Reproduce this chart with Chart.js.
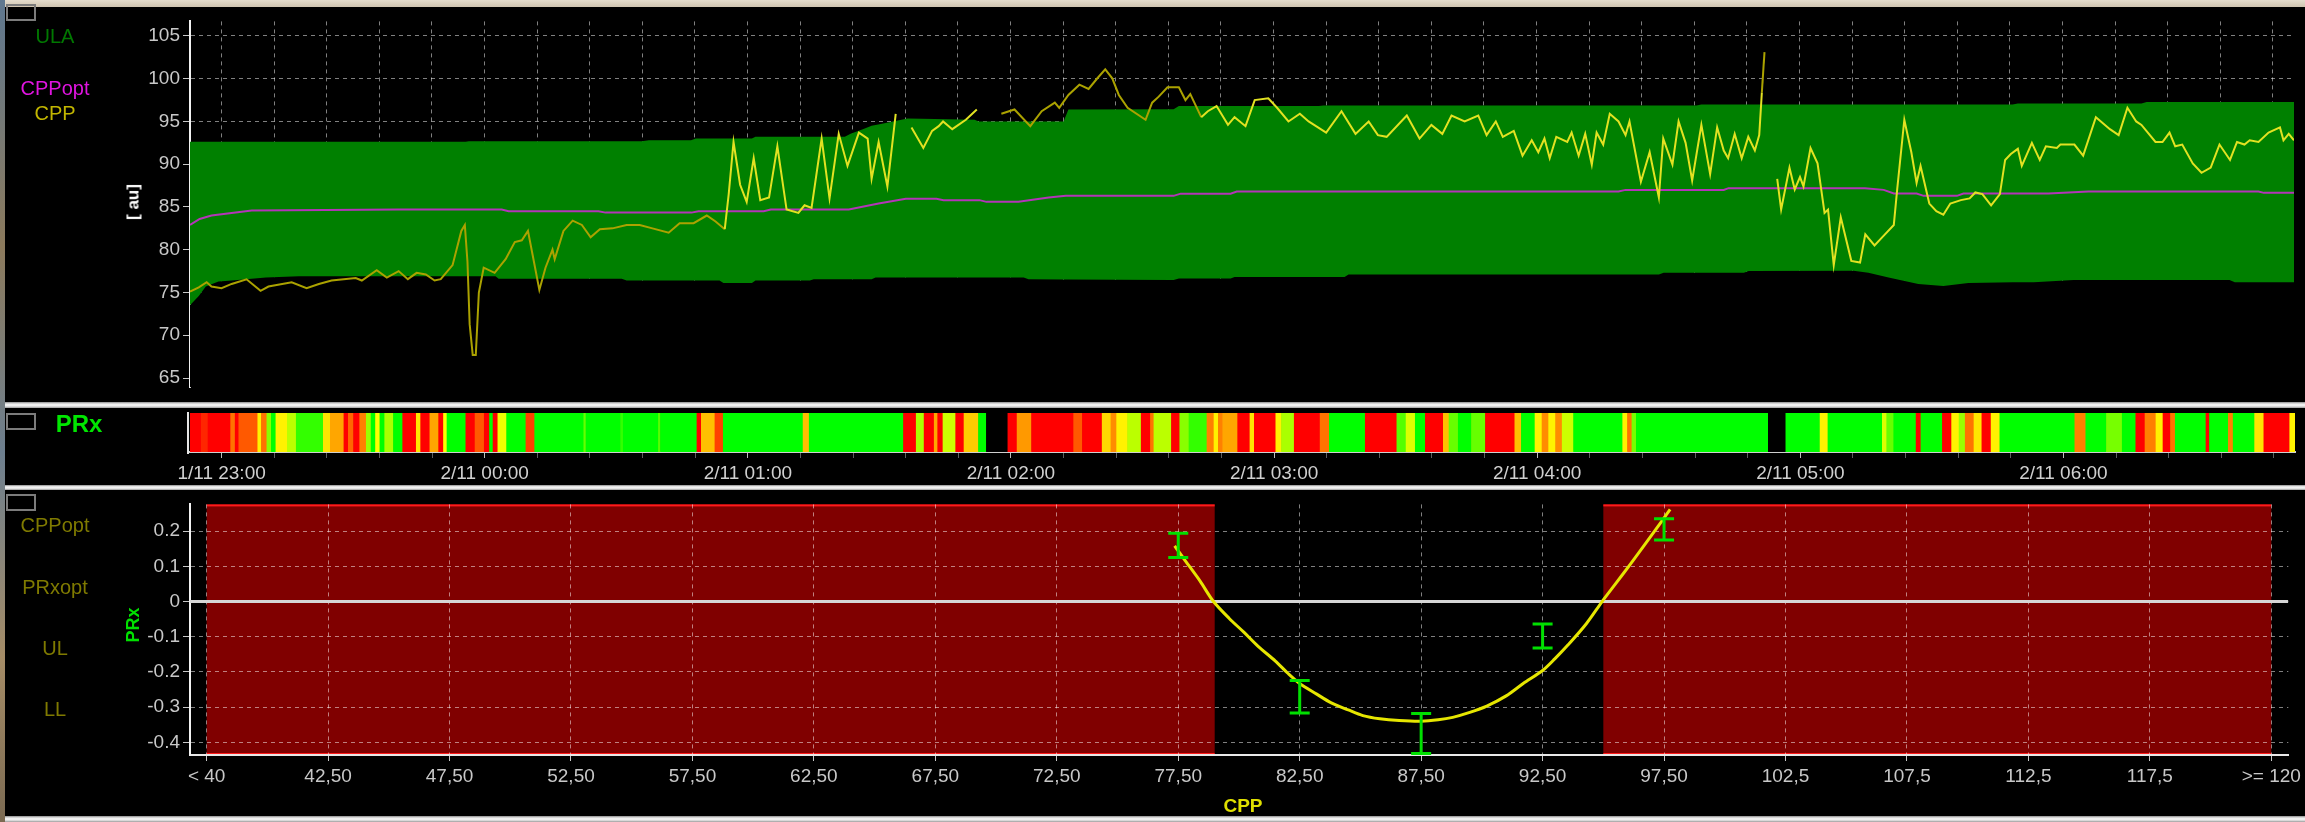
<!DOCTYPE html>
<html>
<head>
<meta charset="utf-8">
<script src="https://cdn.jsdelivr.net/npm/chart.js@4.4.1/dist/chart.umd.min.js"></script>
<style>
  html, body { margin: 0; padding: 0; background: #000; width: 2305px; height: 822px; overflow: hidden; }
  body { position: relative; font-family: "Liberation Sans", Arial, sans-serif; }
  canvas { position: absolute; left: 0; }
  .frame-top { position: absolute; left: 0; top: 0; width: 2305px; height: 7px; background: linear-gradient(#e4dccd, #cfc4b0); }
  .frame-left { position: absolute; left: 0; top: 0; width: 5px; height: 822px; background: linear-gradient(#5f7890, #8c7a5c 30%, #6d7f8f 55%, #a58c66 80%, #7b6a52); }
  .sep { position: absolute; left: 5px; width: 2300px; background: linear-gradient(#8c8c8c 0, #f0f0f0 35%, #f0f0f0 65%, #9a9a9a 100%); }
  .box { position: absolute; left: 6px; width: 26px; height: 13px; border: 2px solid #7c7c7c; }
  .lg { position: absolute; left: 55px; transform: translateX(-50%); font-size: 20px; line-height: 20px; white-space: nowrap; }
  .rot { position: absolute; transform: translate(-50%, -50%) rotate(-90deg); font-weight: bold; white-space: nowrap; line-height: 1; }
</style>
</head>
<body>
<div class="frame-top"></div>
<div class="frame-left"></div>

<canvas id="trend" width="2305" height="395" style="top:7px"></canvas>
<canvas id="prxStrip" width="2305" height="75" style="top:413px"></canvas>
<canvas id="curve" width="2305" height="326" style="top:490px"></canvas>

<div class="sep" style="top:402px;height:6px"></div>
<div class="sep" style="top:485px;height:5px"></div>
<div class="sep" style="top:816px;height:6px"></div>
<div style="position:absolute;left:187px;top:412px;width:2px;height:42px;background:#e6e6e6"></div>

<div class="box" style="top:4px"></div>
<div class="box" style="top:413px"></div>
<div class="box" style="top:494px"></div>

<div class="lg" style="top:26px;color:#007800">ULA</div>
<div class="lg" style="top:78px;color:#e014e0">CPPopt</div>
<div class="lg" style="top:103px;color:#c2b600">CPP</div>
<div class="rot" style="left:133px;top:202px;color:#ffffff;font-size:17px">[ au]</div>

<div class="lg" style="left:79px;top:412px;font-size:24px;line-height:24px;font-weight:bold;color:#00e600">PRx</div>

<div class="lg" style="top:515px;color:#7f7a00">CPPopt</div>
<div class="lg" style="top:577px;color:#7f7a00">PRxopt</div>
<div class="lg" style="top:638px;color:#7f7a00">UL</div>
<div class="lg" style="top:699px;color:#7f7a00">LL</div>
<div class="rot" style="left:133px;top:625px;color:#00e000;font-size:18px">PRx</div>
<div class="rot" style="left:1243px;top:805px;color:#e0e000;font-size:19px;transform:translate(-50%,-50%)">CPP</div>

<script>
// ---------- trend panel (minutes after 1/11 23:00) ----------
const cppSamples = [
  [-7.2,75.1],[-5.2,75.6],[-3.4,76.2],[-2.3,75.7],[0.0,75.5],[2.3,76.0],[5.7,76.55],[8.9,75.2],[10.7,75.7],[16.0,76.2],
  [19.4,75.5],[22.2,76.0],[25.1,76.4],[30.6,76.7],[32.0,76.4],[35.4,77.6],[37.7,76.75],[40.4,77.5],[42.5,76.56],[44.5,77.3],
  [46.6,77.1],[48.6,76.4],[50.0,76.56],[52.7,78.2],[54.7,82.2],[55.5,82.9],[56.1,78.6],[56.6,71.3],[57.3,67.7],[58.0,67.7],
  [58.7,75.0],[59.8,77.9],[62.3,77.3],[64.8,78.9],[66.9,80.9],[68.5,81.1],[69.9,82.2],[71.0,79.3],[72.5,75.3],[73.9,77.9],
  [75.5,80.0],[76.0,78.9],[78.0,82.2],[80.1,83.4],[82.2,82.9],[84.2,81.45],[86.3,82.4],[89.2,82.5],[92.4,82.9],[95.4,82.9],
  [98.3,82.5],[102.0,82.0],[104.5,83.1],[107.7,83.1],[110.7,84.0],[112.7,83.3],[114.8,82.4],[115.7,86.5],[116.8,92.6],[118.3,87.6],
  [119.8,85.6],[121.4,90.7],[122.9,85.8],[124.9,86.1],[126.8,92.1],[128.9,84.7],[131.6,84.3],[133.0,85.2],[134.6,84.9],[136.9,93.0],
  [138.7,86.0],[140.8,93.55],[142.8,89.8],[145.4,93.7],[147.4,93.0],[148.3,88.3],[149.9,92.6],[151.9,87.4],[153.8,95.9],[155.6,null],
  [157.4,94.3],[160.1,91.9],[162.1,93.9],[163.6,94.45],[164.6,95.0],[166.7,94.1],[169.8,95.2],[172.3,96.4],[175.0,null],[177.9,95.9],
  [180.9,96.4],[184.5,94.45],[187.1,96.2],[190.1,97.2],[191.1,96.6],[193.2,98.1],[195.7,99.3],[197.8,98.8],[199.8,100.05],[201.6,101.1],
  [203.2,100.05],[204.7,98.1],[206.7,96.6],[210.8,95.2],[212.3,97.2],[213.8,97.9],[215.8,99.0],[218.4,99.0],[219.9,97.5],[221.0,98.2],
  [223.5,95.5],[225.0,96.2],[227.0,96.8],[229.6,94.6],[231.1,95.5],[233.6,94.45],[235.7,97.5],[238.8,97.7],[240.8,96.6],[243.4,95.0],
  [246.0,95.9],[248.0,95.0],[252.0,93.7],[255.5,96.2],[258.7,93.55],[261.7,95.0],[263.8,93.4],[265.8,93.2],[270.4,95.7],[273.3,93.0],
  [276.0,94.6],[278.5,93.55],[280.6,95.7],[283.6,95.0],[286.7,95.7],[288.6,93.4],[290.7,95.0],[292.3,93.2],[294.8,93.9],[296.8,91.0],
  [298.9,92.8],[300.4,91.4],[301.8,93.0],[303.0,90.7],[304.5,93.2],[307.0,92.6],[308.0,93.7],[309.6,91.0],[311.1,93.55],[312.6,89.95],
  [313.7,93.7],[315.2,92.3],[316.7,95.9],[318.7,95.0],[320.3,93.4],[321.2,95.0],[323.8,87.95],[325.8,91.4],[327.9,86.1],[328.9,93.0],
  [331.0,89.95],[332.4,95.0],[334.0,92.5],[335.5,88.1],[337.6,94.6],[339.6,88.85],[341.2,94.3],[342.7,91.6],[343.7,90.7],[345.2,93.55],
  [346.8,90.7],[348.3,93.2],[349.8,91.6],[350.8,93.4],[351.4,98.4],[352.0,103.1],[353.5,null],[354.9,88.3],[355.8,84.7],[357.7,89.6],
  [358.9,87.05],[360.1,88.5],[360.9,87.4],[362.5,91.9],[364.1,90.1],[365.7,84.3],[366.5,84.7],[367.8,78.2],[369.4,83.8],[371.8,78.7],
  [373.8,78.5],[375.0,81.8],[377.1,80.5],[379.1,81.6],[381.5,82.9],[382.3,87.2],[383.9,95.2],[385.5,91.4],[386.7,87.8],[387.6,89.8],
  [389.6,85.4],[391.2,84.5],[392.8,84.1],[394.4,85.4],[396.8,85.8],[398.8,86.0],[400.1,86.7],[401.7,86.5],[403.7,85.2],[405.7,86.5],
  [406.9,90.5],[408.2,91.2],[409.8,91.8],[410.7,89.8],[413.0,92.5],[414.8,90.5],[416.2,92.1],[418.7,91.9],[419.5,92.3],[421.1,92.3],
  [422.7,92.3],[424.7,91.0],[427.6,95.5],[430.8,94.1],[432.8,93.4],[434.8,96.6],[436.8,95.0],[438.0,94.6],[441.2,92.6],[442.8,92.6],
  [444.4,93.7],[445.7,92.1],[447.3,92.3],[449.7,90.1],[451.7,89.0],[453.8,89.6],[455.8,92.3],[458.2,90.5],[459.8,92.6],[461.5,92.3],
  [462.7,92.8],[464.7,92.6],[467.0,93.7],[469.6,94.3],[470.4,92.8],[471.6,93.55],[472.8,92.8]
];

const cppOptSamples = [
  [-7.2,82.9],[-5.0,83.6],[-2.3,84.0],[6.9,84.6],[40.4,84.7],[63.9,84.7],[65.5,84.5],[86.0,84.5],[87.6,84.34],[107.2,84.34],
  [108.8,84.5],[123.7,84.5],[125.3,84.7],[143.1,84.7],[149.9,85.4],[156.1,85.96],[163.1,85.96],[164.7,85.8],[172.9,85.8],[174.5,85.6],
  [181.8,85.6],[188.7,86.1],[192.6,86.3],[217.2,86.3],[218.8,86.56],[230.2,86.56],[231.6,86.8],[318.7,86.8],[320.3,87.0],[342.7,87.0],
  [343.8,87.2],[374.9,87.2],[379.2,87.0],[381.5,86.57],[386.7,86.57],[388.3,86.3],[395.9,86.3],[397.4,86.57],[416.8,86.57],[425.9,86.8],
  [464.7,86.8],[465.9,86.65],[472.8,86.65]
];

// [minute, upper limit, lower limit] of the ULA band
const ulaBand = [
  [-7.2,92.64,73.5],[-5.2,92.64,74.6],[-3.6,92.64,75.7],[-0.7,92.64,76.3],[2.3,92.64,76.4],[10.1,92.64,76.75],[17.6,92.64,76.9],
  [55.7,92.64,76.9],[56.4,92.7,76.9],[62.5,92.7,76.9],[63.2,92.7,76.6],[91.3,92.7,76.6],[92.4,92.7,76.4],[95.9,92.7,76.4],
  [97.5,92.8,76.4],[107.1,92.8,76.4],[108.2,93.0,76.4],[113.6,93.0,76.4],[114.5,93.0,76.1],[121.0,93.0,76.1],[121.8,93.2,76.4],
  [134.2,93.2,76.4],[135.1,93.2,76.56],[142.2,93.2,76.56],[143.5,93.55,76.56],[146.3,94.1,76.56],[148.3,94.5,76.56],[149.2,94.6,76.75],
  [150.4,94.7,76.75],[156.5,95.35,76.75],[171.8,95.2,76.75],[172.7,95.0,76.75],[183.0,95.0,76.75],[184.1,95.0,76.56],[192.1,95.0,76.53],
  [193.2,96.4,76.52],[217.2,96.44,76.46],[218.4,96.8,76.64],[230.2,96.8,76.64],[231.1,96.8,76.8],[250.3,96.8,76.8],[251.4,96.87,76.8],
  [256.2,96.87,76.8],[257.1,96.87,77.1],[327.9,96.87,77.1],[329.0,96.87,77.3],[336.5,96.87,77.3],[337.6,96.98,77.3],[347.3,96.98,77.3],
  [348.4,96.98,77.5],[372.3,96.98,77.54],[375.7,96.98,77.3],[380.3,96.98,76.75],[387.1,96.98,76.0],[392.8,96.98,75.77],[398.5,96.98,76.1],
  [408.6,96.98,76.2],[409.8,97.09,76.2],[413.4,97.09,76.2],[422.5,97.09,76.46],[438.0,97.09,76.46],[439.2,97.27,76.46],[458.1,97.27,76.46],
  [459.3,97.27,76.2],[472.8,97.27,76.2]
];

const trendTicks = [65, 70, 75, 80, 85, 90, 95, 100, 105];

// ---------- PRx strip: [segment start minute, PRx] (null = no data) ----------
const prxSegments = [
  [-7.2,0.4],[-4.64,0.32],[-3.09,0.4],[2.07,0.26],[3.1,0.4],[3.93,0.28],[8.26,0.16],[9.09,0.26],[10.33,0.08],[11.36,-0.1],
  [12.39,0.16],[15.0,0.11],[17.03,0.03],[23.2,0.17],[24.8,0.22],[27.9,0.4],[28.9,0.27],[30.1,0.4],[31.5,0.25],[33.0,0.09],
  [34.1,-0.1],[35.1,0.15],[36.1,-0.05],[37.2,0.1],[39.2,-0.1],[41.3,0.4],[44.4,0.17],[45.4,0.4],[47.5,0.22],[49.5,0.4],
  [50.6,0.15],[51.4,-0.2],[55.7,0.36],[57.8,0.28],[59.9,0.4],[61.1,0.0],[61.9,0.4],[63.0,0.14],[65.0,-0.2],[69.4,0.3],
  [71.4,-0.2],[82.6,0.06],[83.1,-0.2],[91.0,0.03],[91.6,-0.2],[99.6,0.05],[100.1,-0.2],[108.4,0.4],[109.4,0.2],[112.5,0.3],
  [114.4,-0.2],[132.6,0.2],[134.0,-0.2],[155.5,0.4],[158.4,0.1],[160.2,0.4],[162.5,0.22],[163.3,0.4],[164.5,0.12],[167.4,0.4],
  [169.3,0.19],[172.6,-0.05],[174.4,null],[179.3,0.38],[181.4,0.23],[184.7,0.4],[194.3,0.28],[196.3,0.4],[200.8,0.18],[202.8,0.24],
  [204.1,0.16],[206.6,0.11],[209.7,0.4],[211.8,0.26],[212.6,0.11],[216.6,0.4],[218.5,0.08],[220.6,0.03],[224.7,0.25],[226.3,0.16],
  [227.3,0.25],[228.3,0.22],[231.7,0.4],[234.5,0.17],[235.5,0.4],[240.4,0.16],[241.7,0.1],[244.6,0.4],[250.5,0.26],[252.6,-0.15],
  [260.8,0.4],[268.0,0.05],[270.1,0.13],[272.2,-0.15],[274.5,0.4],[278.6,0.2],[279.9,0.06],[282.0,-0.1],[285.0,0.06],[288.2,0.4],
  [294.9,0.2],[296.4,-0.15],[299.5,0.16],[301.1,0.24],[302.6,0.16],[304.2,0.24],[305.7,0.12],[308.3,-0.2],[319.5,0.16],[320.6,0.26],
  [321.6,0.07],[322.6,-0.2],[352.7,null],[356.7,-0.2],[364.5,0.16],[366.3,-0.2],[378.7,0.13],[379.7,0.06],[381.3,-0.2],[386.4,0.4],
  [387.5,-0.2],[392.4,0.4],[394.5,0.16],[396.2,0.09],[397.6,0.26],[399.6,0.17],[401.4,0.4],[403.5,0.16],[405.5,-0.2],[422.6,0.25],
  [425.1,-0.2],[429.8,0.07],[433.4,-0.2],[436.5,0.4],[438.6,0.25],[441.1,0.16],[442.7,0.4],[444.4,0.26],[445.5,-0.2],[452.5,0.4],
  [453.3,-0.2],[457.6,0.25],[458.7,-0.2],[463.6,0.17],[465.7,0.4],[471.6,0.16]
];
const recordStart = -7.2;
const recordEnd = 472.8;
const hourTicks = [0, 60, 120, 180, 240, 300, 360, 420];
const hourLabels = ['1/11 23:00', '2/11 00:00', '2/11 01:00', '2/11 02:00', '2/11 03:00', '2/11 04:00', '2/11 05:00', '2/11 06:00'];

// ---------- PRx vs CPP panel ----------
const cppBinTicks = [37.5, 42.5, 47.5, 52.5, 57.5, 62.5, 67.5, 72.5, 77.5, 82.5, 87.5, 92.5, 97.5, 102.5, 107.5, 112.5, 117.5, 122.5];
const cppBinLabels = ['< 40', '42,50', '47,50', '52,50', '57,50', '62,50', '67,50', '72,50', '77,50', '82,50', '87,50', '92,50', '97,50', '102,5', '107,5', '112,5', '117,5', '>= 120'];
const prxTicks = [-0.4, -0.3, -0.2, -0.1, 0, 0.1, 0.2];
const prxTickLabels = ['-0.4', '-0.3', '-0.2', '-0.1', '0', '0.1', '0.2'];
const binCpp = [77.5, 82.5, 87.5, 92.5, 97.5];
const binPrxLow = [0.125, -0.317, -0.432, -0.132, 0.175];
const binPrxHigh = [0.194, -0.224, -0.318, -0.064, 0.235];
const fitCpp = [77.35, 77.8, 78.4, 78.95, 79.6, 80.2, 80.8, 81.5, 82.0, 82.5, 83.2, 83.8, 84.5, 85.1, 85.8, 86.6,
                87.5, 88.2, 88.8, 89.5, 90.2, 91.0, 91.7, 92.5, 93.0, 93.55, 94.3, 94.95, 95.5, 96.1, 96.9, 97.75];
const fitPrx = [0.158, 0.115, 0.058, 0.0, -0.048, -0.087, -0.128, -0.169, -0.203, -0.233, -0.263, -0.288, -0.308, -0.324, -0.333, -0.338,
                -0.340, -0.336, -0.329, -0.315, -0.297, -0.268, -0.233, -0.196, -0.163, -0.123, -0.063, 0.0, 0.05, 0.105, 0.18, 0.262];
const LL = 79.0;
const UL = 95.0;

// ---------- shared styling ----------
const FONT = '"Liberation Sans", Arial, sans-serif';
Chart.defaults.font.family = FONT;
Chart.defaults.color = '#c8c8c8';
const GRID = 'rgba(255,255,255,0.5)';
const DASH = [4, 4];
const oliveSpans = [[-8, 114.5], [176, 222], [350.9, 353]];
const isOlive = (t) => oliveSpans.some(([a, b]) => t >= a && t < b);
const pts = (rows, col) => rows.map(r => ({ x: r[0], y: r[col] }));
const base = { responsive: false, animation: false, events: [], plugins: { legend: { display: false }, tooltip: { enabled: false } } };

function prxColour(v) {
  if (v === null) return '#000000';
  if (v <= 0) return 'rgb(0,255,0)';
  if (v < 0.15) return `rgb(${Math.round(255 * v / 0.15)},255,0)`;
  if (v < 0.35) return `rgb(255,${Math.round(255 * (1 - (v - 0.15) / 0.2))},0)`;
  return 'rgb(255,0,0)';
}

// ---------- trend chart ----------
const gridMinutes = [];
for (let m = 0; m <= 468; m += 12) gridMinutes.push(m);

new Chart(document.getElementById('trend'), {
  type: 'line',
  data: {
    datasets: [
      { label: 'CPP', data: pts(cppSamples, 1), borderColor: '#e2e222', borderWidth: 2, pointRadius: 0, tension: 0, spanGaps: false,
        segment: { borderColor: c => isOlive(c.p0.parsed.x) ? '#aba200' : undefined } },
      { label: 'CPPopt', data: pts(cppOptSamples, 1), borderColor: '#b335b8', borderWidth: 2, pointRadius: 0, tension: 0 },
      { label: 'ULA', data: pts(ulaBand, 1), borderColor: 'transparent', borderWidth: 0, pointRadius: 0, fill: '+1', backgroundColor: '#008000' },
      { label: 'ULA low', data: pts(ulaBand, 2), borderColor: 'transparent', borderWidth: 0, pointRadius: 0, fill: 'start', backgroundColor: '#000000' }
    ]
  },
  options: Object.assign({}, base, {
    layout: { padding: { left: 0, right: 11, top: 0, bottom: 0 } },
    scales: {
      x: {
        type: 'linear', min: recordStart, max: recordEnd,
        afterBuildTicks: s => { s.ticks = gridMinutes.map(v => ({ value: v })); },
        afterFit: s => { s.height = 0; },
        ticks: { display: false },
        grid: { color: GRID, drawTicks: false },
        border: { display: false, dash: DASH }
      },
      y: {
        min: 63.88, max: 106.70,
        afterBuildTicks: s => { s.ticks = trendTicks.map(v => ({ value: v })); },
        afterFit: s => { s.width = 190; },
        ticks: { color: '#c8c8c8', font: { size: 19 }, padding: 3 },
        grid: { color: GRID, tickColor: '#c8c8c8', tickLength: 7 },
        border: { display: true, color: '#f2f2f2', width: 2, dash: DASH }
      }
    }
  })
});

// ---------- PRx strip ----------
new Chart(document.getElementById('prxStrip'), {
  type: 'bar',
  data: {
    labels: ['PRx'],
    datasets: [{
      data: prxSegments.map((s, i) => ({ x: [s[0], i + 1 < prxSegments.length ? prxSegments[i + 1][0] : recordEnd], y: 'PRx' })),
      backgroundColor: prxSegments.map(s => prxColour(s[1])),
      borderWidth: 0, barPercentage: 1, categoryPercentage: 1
    }]
  },
  options: Object.assign({}, base, {
    indexAxis: 'y',
    layout: { padding: { left: 190, right: 10, top: 0, bottom: 0 } },
    scales: {
      x: {
        type: 'linear', min: recordStart, max: recordEnd,
        afterBuildTicks: s => { s.ticks = gridMinutes.map(v => ({ value: v })); },
        afterFit: s => { s.height = 36; },
        ticks: {
          autoSkip: false, maxRotation: 0, color: '#d0d0d0', font: { size: 19 }, padding: 4,
          callback: v => { const i = hourTicks.indexOf(v); return i >= 0 ? hourLabels[i] : ''; }
        },
        grid: { drawOnChartArea: false, tickLength: 6, tickColor: c => hourTicks.includes(c.tick && c.tick.value) ? '#bdbdbd' : '#5e5e5e' },
        border: { display: true, color: '#cfcfcf', width: 2 }
      },
      y: { display: false }
    }
  })
});

// ---------- PRx vs CPP chart ----------
const badZones = {
  id: 'badZones',
  beforeDraw(chart) {
    const { ctx, chartArea: a, scales: { x } } = chart;
    const zones = [[cppBinTicks[0], LL], [UL, cppBinTicks[cppBinTicks.length - 1]]];
    ctx.save();
    for (const [from, to] of zones) {
      const x0 = x.getPixelForValue(from), x1 = x.getPixelForValue(to);
      ctx.fillStyle = '#800000';
      ctx.fillRect(x0, a.top, x1 - x0, a.bottom - a.top);
      ctx.fillStyle = '#ff1a1a';
      ctx.fillRect(x0, a.top, x1 - x0, 2);
      ctx.fillRect(x0, a.bottom - 2, x1 - x0, 2);
    }
    ctx.restore();
  }
};

const cppMin = 36.815, cppMax = 123.2;
const stems = [];
binCpp.forEach((c, i) => { stems.push({ x: c, y: binPrxLow[i] }, { x: c, y: binPrxHigh[i] }, { x: c, y: null }); });
const caps = binCpp.flatMap((c, i) => [{ x: c, y: binPrxLow[i] }, { x: c, y: binPrxHigh[i] }]);

new Chart(document.getElementById('curve'), {
  type: 'line',
  data: {
    datasets: [
      { type: 'scatter', data: caps, pointStyle: 'line', pointRadius: 10, pointBorderWidth: 3, pointBorderColor: '#00e000', pointBackgroundColor: '#00e000', showLine: false },
      { data: stems, borderColor: '#00e000', borderWidth: 3, pointRadius: 0, spanGaps: false },
      { data: fitCpp.map((c, i) => ({ x: c, y: fitPrx[i] })), borderColor: '#e6e600', borderWidth: 3, pointRadius: 0, tension: 0.3 },
      { data: [{ x: cppMin, y: 0 }, { x: cppMax, y: 0 }], borderColor: '#d6d6d6', borderWidth: 3, pointRadius: 0 }
    ]
  },
  plugins: [badZones],
  options: Object.assign({}, base, {
    layout: { padding: { left: 0, right: 10, top: 5, bottom: 0 } },
    scales: {
      x: {
        type: 'linear', min: cppMin, max: cppMax, offset: false,
        afterBuildTicks: s => { s.ticks = cppBinTicks.map(v => ({ value: v })); },
        afterFit: s => { s.height = 61; },
        ticks: {
          autoSkip: false, maxRotation: 0, color: '#c8c8c8', font: { size: 19 }, padding: 4,
          callback: v => { const i = cppBinTicks.indexOf(v); return i >= 0 ? cppBinLabels[i] : ''; }
        },
        grid: { color: GRID, tickColor: '#c8c8c8', tickLength: 6, offset: false },
        border: { display: true, color: '#e8e8e8', width: 2, dash: DASH }
      },
      y: {
        min: -0.436, max: 0.276,
        afterBuildTicks: s => { s.ticks = prxTicks.map(v => ({ value: v })); },
        afterFit: s => { s.width = 190; },
        ticks: {
          color: '#c8c8c8', font: { size: 19 }, padding: 3,
          callback: v => { const i = prxTicks.indexOf(v); return i >= 0 ? prxTickLabels[i] : ''; }
        },
        grid: { color: GRID, tickColor: '#c8c8c8', tickLength: 7 },
        border: { display: true, color: '#f2f2f2', width: 2, dash: DASH }
      }
    }
  })
});
</script>
</body>
</html>
